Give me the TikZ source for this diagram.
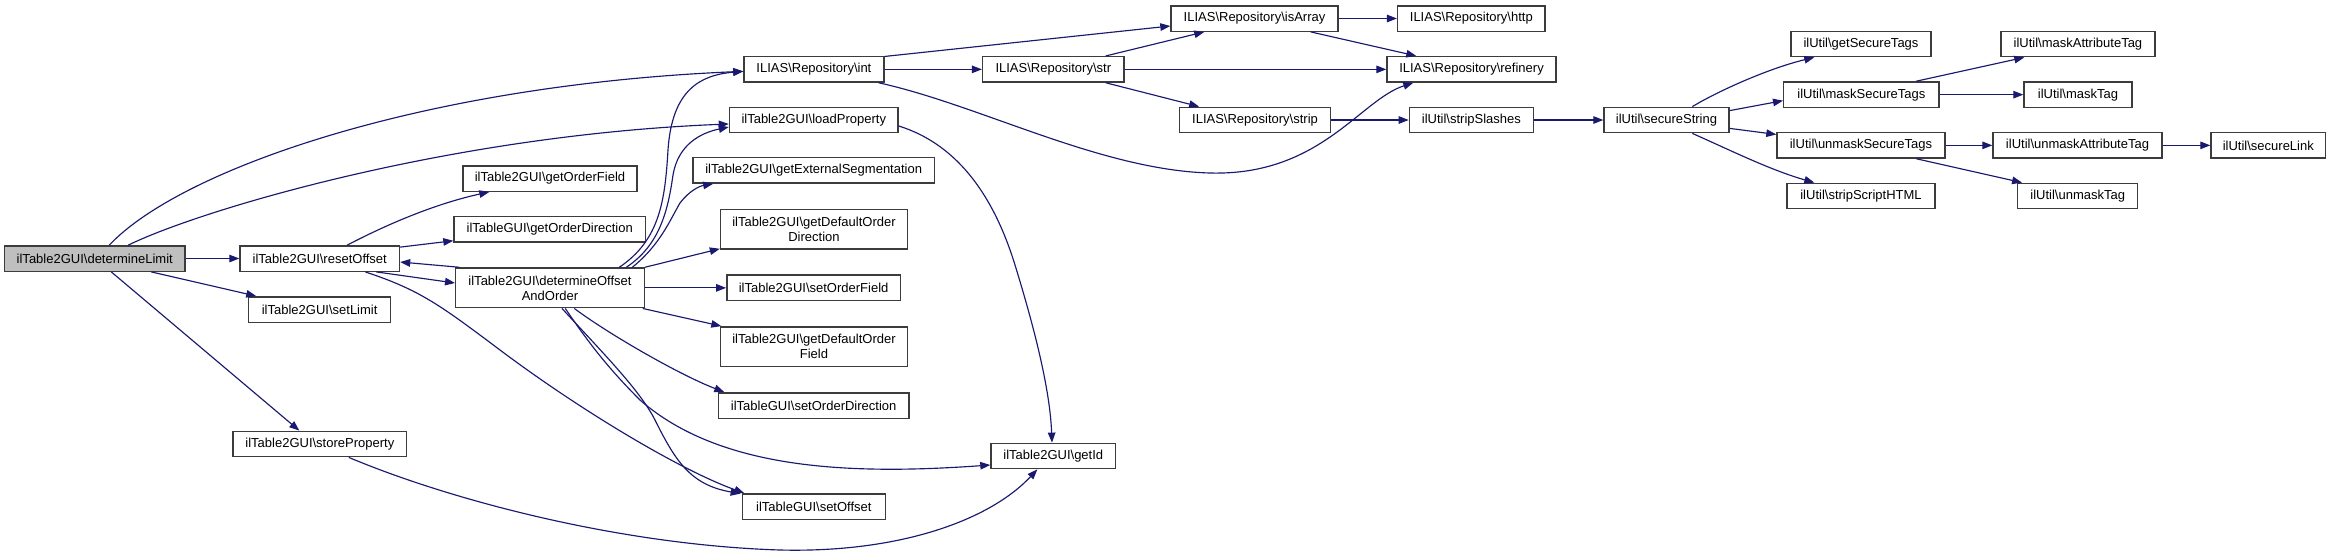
\documentclass[tikz,border=0pt]{standalone}
\usepackage{fontspec}
\setmainfont{Liberation Sans}
\usetikzlibrary{arrows.meta,calc}
\definecolor{edgeblue}{RGB}{25,25,112}
\definecolor{boxline}{RGB}{60,60,60}
\definecolor{curfill}{RGB}{191,191,191}
\tikzset{
  fn/.style={draw=boxline, line width=1.4pt, fill=white, inner sep=0pt,
    minimum height=25.4pt, align=center, font=\fontsize{13}{15}\selectfont},
  fn2/.style={fn, minimum height=39.8pt},
  ed/.style={draw=edgeblue, line width=1.15pt,
    -{Triangle[length=10pt,width=7.5pt]}, fill=none},
}
\newcommand{\bs}{\textbackslash}
\begin{document}
\begin{tikzpicture}[x=1pt,y=-1pt]
\useasboundingbox (0,0) rectangle (2331,558);
\fill[white] (0,0) rectangle (2331,558);
% nodes
\node[fn, fill=curfill, minimum width=180.5pt] (dl) at (94.75,258.5) {ilTable2GUI\bs determineLimit};
\node[fn, minimum width=159.5pt] (ro) at (319.75,258.5) {ilTable2GUI\bs resetOffset};
\node[fn, minimum width=142pt] (sl) at (319.65,309.5) {ilTable2GUI\bs setLimit};
\node[fn, minimum width=173.7pt] (sp) at (319.85,444) {ilTable2GUI\bs storeProperty};
\node[fn, minimum width=174pt] (gof) at (550,178.5) {ilTable2GUI\bs getOrderField};
\node[fn, minimum width=191.5pt] (god) at (549.75,229.35) {ilTableGUI\bs getOrderDirection};
\node[fn2, minimum width=188.6pt] (doo) at (550,287.85) {ilTable2GUI\bs determineOffset\\AndOrder};
\node[fn, minimum width=140pt] (int) at (813.9,69.35) {ILIAS\bs Repository\bs int};
\node[fn, minimum width=168.5pt] (lp) at (813.75,120) {ilTable2GUI\bs loadProperty};
\node[fn, minimum width=241.5pt] (ges) at (813.65,170.35) {ilTable2GUI\bs getExternalSegmentation};
\node[fn2, minimum width=187pt] (gdod) at (814,229.15) {ilTable2GUI\bs getDefaultOrder\\Direction};
\node[fn, minimum width=173.6pt] (sof) at (813.6,287.85) {ilTable2GUI\bs setOrderField};
\node[fn2, minimum width=187pt] (gdof) at (814,346.7) {ilTable2GUI\bs getDefaultOrder\\Field};
\node[fn, minimum width=190.7pt] (sod) at (813.65,405.5) {ilTableGUI\bs setOrderDirection};
\node[fn, minimum width=143pt] (so) at (813.85,506.5) {ilTableGUI\bs setOffset};
\node[fn, minimum width=124.6pt] (gid) at (1053.3,456) {ilTable2GUI\bs getId};
\node[fn, minimum width=167pt] (isa) at (1254.5,18.5) {ILIAS\bs Repository\bs isArray};
\node[fn, minimum width=141.4pt] (str) at (1053.3,69.35) {ILIAS\bs Repository\bs str};
\node[fn, minimum width=151.3pt] (strip) at (1255,120) {ILIAS\bs Repository\bs strip};
\node[fn, minimum width=147.4pt] (http) at (1471.3,18.5) {ILIAS\bs Repository\bs http};
\node[fn, minimum width=169pt] (ref) at (1471.5,69.35) {ILIAS\bs Repository\bs refinery};
\node[fn, minimum width=124pt] (ss) at (1471.4,120) {ilUtil\bs stripSlashes};
\node[fn, minimum width=125pt] (sec) at (1666.5,120) {ilUtil\bs secureString};
\node[fn, minimum width=140pt] (gst) at (1861,44) {ilUtil\bs getSecureTags};
\node[fn, minimum width=155.3pt] (mst) at (1861.35,94.65) {ilUtil\bs maskSecureTags};
\node[fn, minimum width=168pt] (ust) at (1861,145.35) {ilUtil\bs unmaskSecureTags};
\node[fn, minimum width=148pt] (ssh) at (1861,196) {ilUtil\bs stripScriptHTML};
\node[fn, minimum width=153.8pt] (mat) at (2077.9,44) {ilUtil\bs maskAttributeTag};
\node[fn, minimum width=108pt] (mt) at (2078,94.65) {ilUtil\bs maskTag};
\node[fn, minimum width=169pt] (uat) at (2077.5,145.35) {ilUtil\bs unmaskAttributeTag};
\node[fn, minimum width=120pt] (ut) at (2077.75,196) {ilUtil\bs unmaskTag};
\node[fn, minimum width=114.6pt] (sln) at (2268.3,145.35) {ilUtil\bs secureLink};
% edges from determineLimit
\draw[ed] ($(dl.north west)+(105.5,0)$) .. controls (180,170) and (420,85) .. ($(int.west)+(0,2)$);
\draw[ed] ($(dl.north west)+(124.5,0)$) .. controls (200,210) and (450,135) .. ($(lp.west)+(0,4)$);
\draw[ed] (dl.east) -- (ro.west);
\draw[ed] ($(dl.south west)+(147.5,0)$) -- ($(sl.north west)+(8.3,0)$);
\draw[ed] ($(dl.south west)+(107.5,0)$) -- ($(sp.north west)+(67,0)$);
% edges from resetOffset
\draw[ed] ($(ro.north west)+(108,0)$) .. controls (380,228) and (430,205) .. ($(gof.south west)+(27,0)$);
\draw[ed] ($(ro.north east)+(0,2)$) -- ($(god.south west)+(0,-2)$);
\draw[ed] ($(ro.south west)+(137,0)$) -- ($(doo.west)+(0,-4.85)$);
\draw[ed] ($(ro.south west)+(126,0)$) .. controls (420,290) and (440,305) .. (500,350)
   .. controls (580,410) and (680,470) .. ($(so.north west)+(2.6,0)$);
% edges from determineOffsetAndOrder
\draw[ed] ($(doo.north west)+(4.3,0)$) -- ($(ro.east)+(0,3.5)$);
\draw[ed] ($(doo.north west)+(164.3,0)$) .. controls (660,240) and (665,200) .. (668,150)
   .. controls (672,90) and (700,75) .. ($(int.west)+(0,2)$);
\draw[ed] ($(doo.north west)+(171.3,0)$) .. controls (660,245) and (668,210) .. (673,175)
   .. controls (678,145) and (700,133) .. ($(lp.west)+(0,7)$);
\draw[ed] ($(doo.north west)+(177.3,0)$) .. controls (660,245) and (670,220) .. (680,203)
   .. controls (690,190) and (700,186) .. ($(ges.south west)+(21,0)$);
\draw[ed] (doo.north east) -- ($(gdod.south west)+(0,-1)$);
\draw[ed] (doo.east) -- (sof.west);
\draw[ed] ($(doo.south east)+(-2.3,0)$) -- ($(gdof.north west)+(1.5,0)$);
\draw[ed] ($(doo.south west)+(119.3,0)$) .. controls (610,335) and (680,375) .. ($(sod.north west)+(6.7,0)$);
\draw[ed] ($(doo.south west)+(110.3,0)$) .. controls (590,345) and (610,370) .. (640,400)
   .. controls (720,470) and (850,475) .. ($(gid.west)+(0,9)$);
\draw[ed] ($(doo.south west)+(107,0)$) .. controls (600,350) and (640,390) .. (655,420)
   .. controls (675,460) and (690,485) .. ($(so.north west)+(-1,0.5)$);
% other edges
\draw[ed] ($(lp.east)+(0,6)$) .. controls (960,145) and (995,200) .. (1015,265)
   .. controls (1035,330) and (1050,390) .. ($(gid.north)+(-1.3,0)$);
\draw[ed] ($(sp.south west)+(116.5,0)$) .. controls (450,500) and (620,545) .. (780,550)
   .. controls (900,553) and (990,520) .. ($(gid.south west)+(47,0)$);
\draw[ed] (int.east) -- (str.west);
\draw[ed] ($(int.north east)+(0,0.5)$) -- ($(isa.west)+(0,7.5)$);
\draw[ed] ($(int.south east)+(-6,0)$) .. controls (980,105) and (1100,170) .. (1210,173)
   .. controls (1320,176) and (1360,100) .. ($(ref.south west)+(27,0)$);
\draw[ed] ($(str.north east)+(-19,0)$) -- ($(isa.south west)+(34,0)$);
\draw[ed] (str.east) -- (ref.west);
\draw[ed] ($(str.south east)+(-19,0)$) -- ($(strip.north west)+(20.5,0)$);
\draw[ed] (isa.east) -- (http.west);
\draw[ed] ($(isa.south east)+(-28,0)$) -- ($(ref.north west)+(30,0)$);
\draw[ed] (strip.east) -- (ss.west);
\draw[ed] (ss.east) -- (sec.west);
\draw[ed] ($(sec.north west)+(89,0)$) .. controls (1720,90) and (1770,68) .. ($(gst.south west)+(24,0)$);
\draw[ed] ($(sec.north east)+(0,4)$) -- ($(mst.west)+(0,6)$);
\draw[ed] ($(sec.south east)+(0,-5)$) -- ($(ust.north west)+(0,2.5)$);
\draw[ed] ($(sec.south west)+(89,0)$) .. controls (1730,150) and (1770,170) .. ($(ssh.north west)+(28,0)$);
\draw[ed] ($(mst.north west)+(133,0)$) -- ($(mat.south west)+(24,0)$);
\draw[ed] (mst.east) -- (mt.west);
\draw[ed] (ust.east) -- (uat.west);
\draw[ed] ($(ust.south west)+(140,0)$) -- ($(ut.north west)+(5,0)$);
\draw[ed] (uat.east) -- (sln.west);
\end{tikzpicture}
\end{document}
